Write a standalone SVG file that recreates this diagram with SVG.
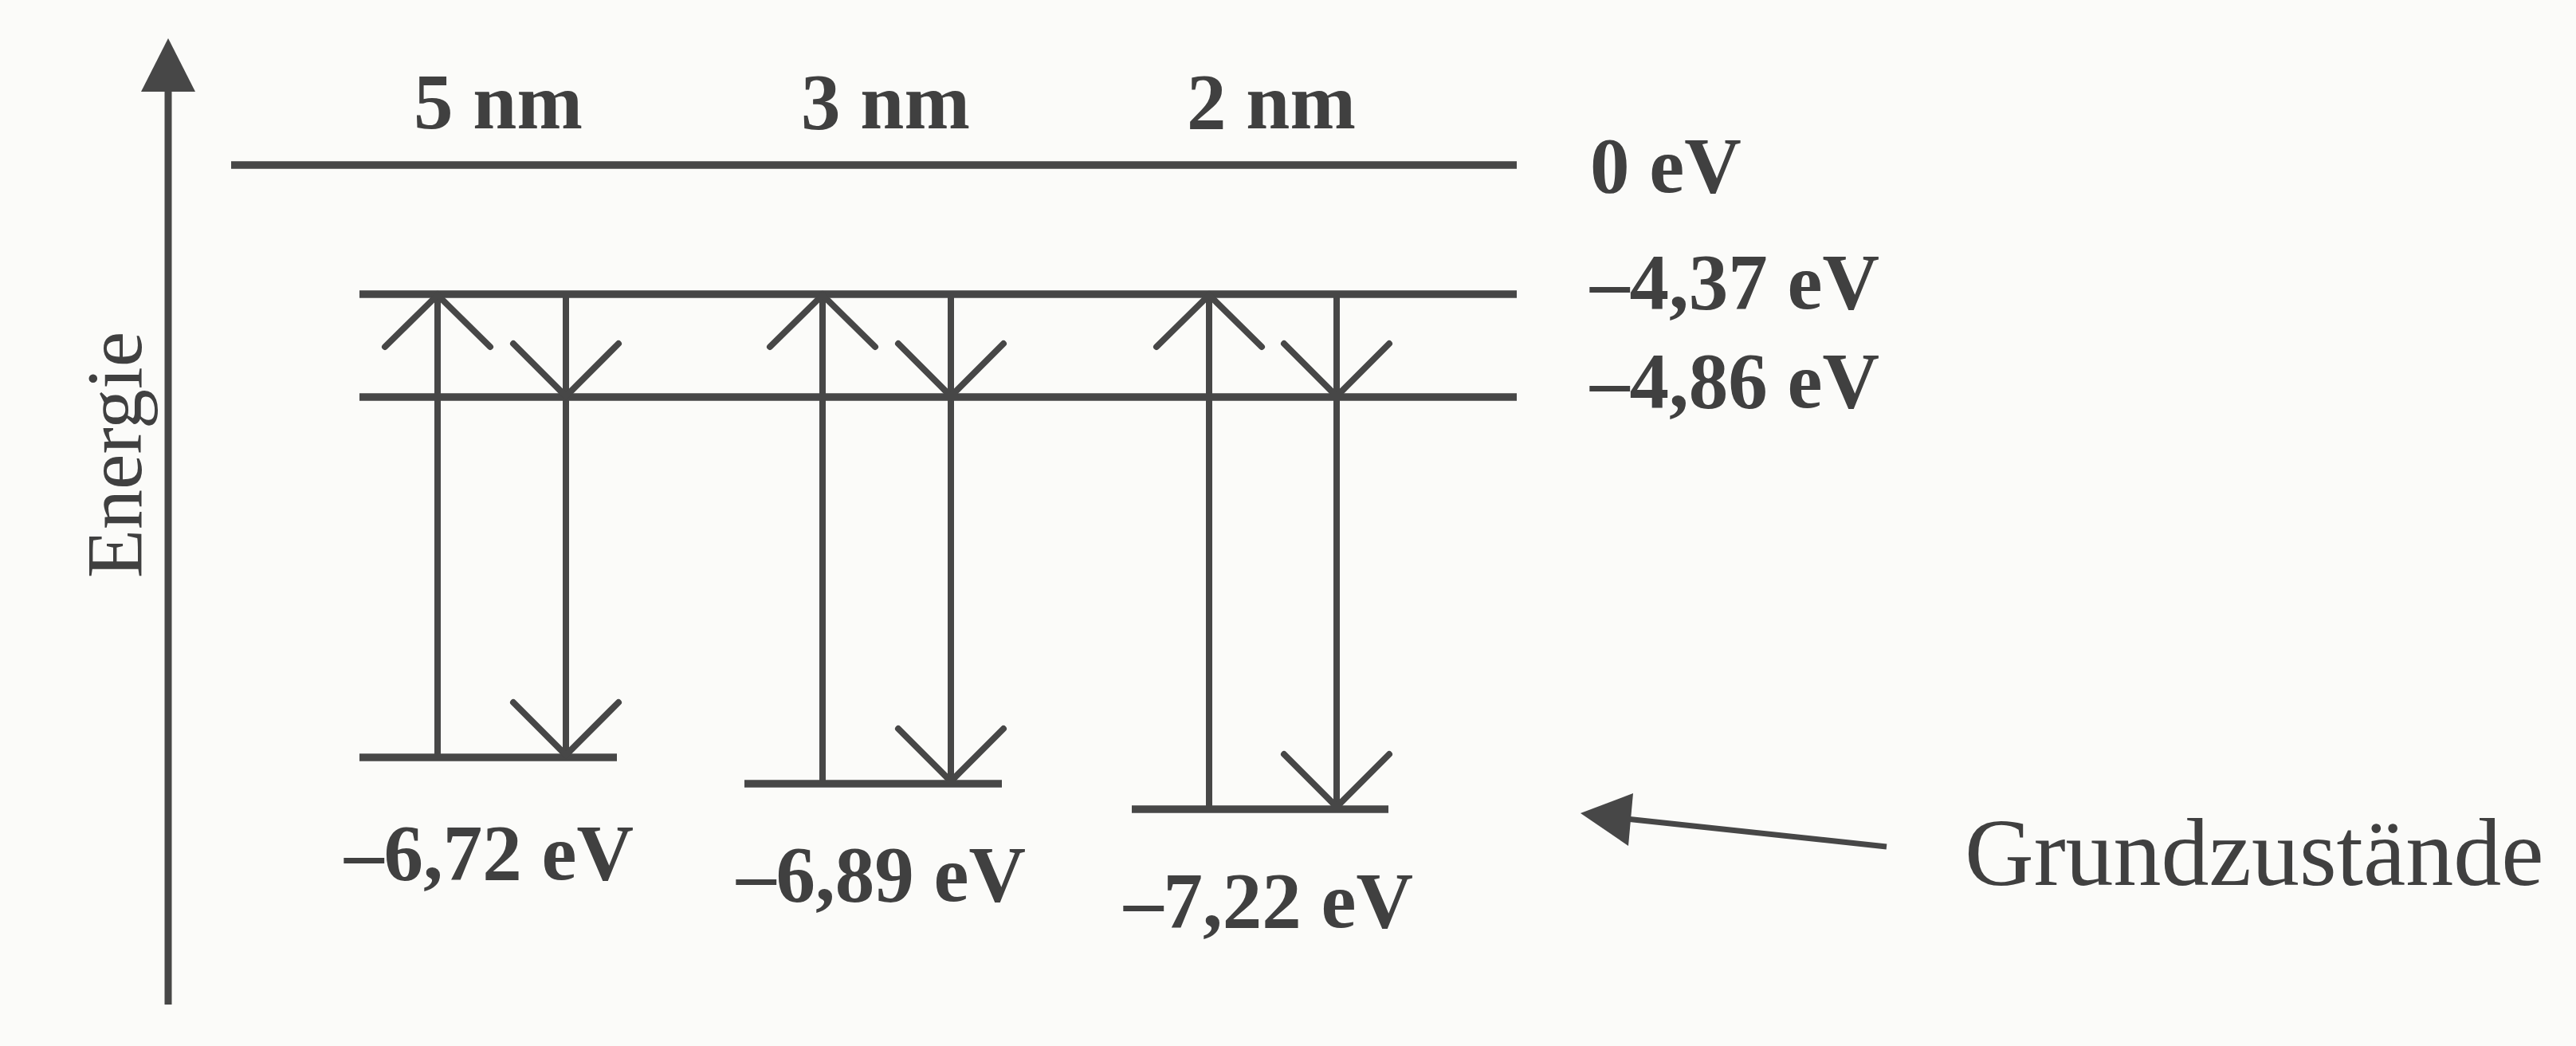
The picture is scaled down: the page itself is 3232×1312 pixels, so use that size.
<svg xmlns="http://www.w3.org/2000/svg" width="3232" height="1312" viewBox="0 0 3232 1312">
  <style>
    .lvl { stroke: #474747; stroke-width: 9.5; fill: none; }
    .shaft { stroke: #474747; stroke-width: 8; fill: none; }
    .head { stroke: #474747; stroke-width: 8; fill: none; stroke-linecap: round; stroke-linejoin: miter; }
    .axis { stroke: #474747; stroke-width: 9; fill: none; }
    .fillhead { fill: #474747; stroke: none; }
    .b { font-family: "Liberation Serif", "Times New Roman", serif; font-weight: bold; font-size: 99px; fill: #404040; }
    .r { font-family: "Liberation Serif", "Times New Roman", serif; font-size: 100px; fill: #404040; }
    .big { font-family: "Liberation Serif", "Times New Roman", serif; font-size: 120px; fill: #404040; }
  </style>
  <rect width="3232" height="1312" fill="#fbfbf9"/>

  <g id="axis">
    <line class="axis" x1="211" y1="1260" x2="211" y2="110"/>
    <polygon class="fillhead" points="211,48 177,115 245,115"/>
    <text class="r" transform="translate(177,725) rotate(-90)">Energie</text>
  </g>

  <g id="level-0">
    <line class="lvl" x1="290" y1="207" x2="1903" y2="207"/>
    <text class="b" x="1995" y="241">0 eV</text>
  </g>
  <g id="level-437">
    <line class="lvl" x1="451" y1="369" x2="1903" y2="369"/>
    <text class="b" x="1995" y="387">–4,37 eV</text>
  </g>
  <g id="level-486">
    <line class="lvl" x1="451" y1="498" x2="1903" y2="498"/>
    <text class="b" x="1995" y="511">–4,86 eV</text>
  </g>

  <g id="col-5nm">
    <text class="b" x="625" y="161" text-anchor="middle">5 nm</text>
    <line class="lvl" x1="451" y1="950" x2="774" y2="950"/>
    <text class="b" x="432" y="1103">–6,72 eV</text>
  </g>
  <g id="col-3nm">
    <text class="b" x="1111" y="161" text-anchor="middle">3 nm</text>
    <line class="lvl" x1="934" y1="983" x2="1257" y2="983"/>
    <text class="b" x="924" y="1130">–6,89 eV</text>
  </g>
  <g id="col-2nm">
    <text class="b" x="1595" y="161" text-anchor="middle">2 nm</text>
    <line class="lvl" x1="1420" y1="1015" x2="1742" y2="1015"/>
    <text class="b" x="1410" y="1163">–7,22 eV</text>
  </g>

  <g id="label-grund">
    <text class="big" x="2465" y="1110">Grundzustände</text>
  </g>

  <g id="connectors">
    <!-- 5 nm -->
    <line class="shaft" x1="549" y1="950" x2="549" y2="370"/>
    <polyline class="head" points="483,435 549,370 615,435"/>
    <line class="shaft" x1="710" y1="369" x2="710" y2="950"/>
    <polyline class="head" points="644,431 710,497 776,431"/>
    <polyline class="head" points="644,881 710,947 776,881"/>
    <!-- 3 nm -->
    <line class="shaft" x1="1032" y1="983" x2="1032" y2="370"/>
    <polyline class="head" points="966,435 1032,370 1098,435"/>
    <line class="shaft" x1="1193" y1="369" x2="1193" y2="983"/>
    <polyline class="head" points="1127,431 1193,497 1259,431"/>
    <polyline class="head" points="1127,914 1193,980 1259,914"/>
    <!-- 2 nm -->
    <line class="shaft" x1="1517" y1="1015" x2="1517" y2="370"/>
    <polyline class="head" points="1451,435 1517,370 1583,435"/>
    <line class="shaft" x1="1677" y1="369" x2="1677" y2="1015"/>
    <polyline class="head" points="1611,431 1677,497 1743,431"/>
    <polyline class="head" points="1611,946 1677,1012 1743,946"/>
    <!-- pointer to ground states -->
    <line x1="2367" y1="1062" x2="2040" y2="1027" stroke="#474747" stroke-width="7"/>
    <polygon class="fillhead" points="1983,1020 2049,995 2043,1061"/>
  </g>
</svg>
